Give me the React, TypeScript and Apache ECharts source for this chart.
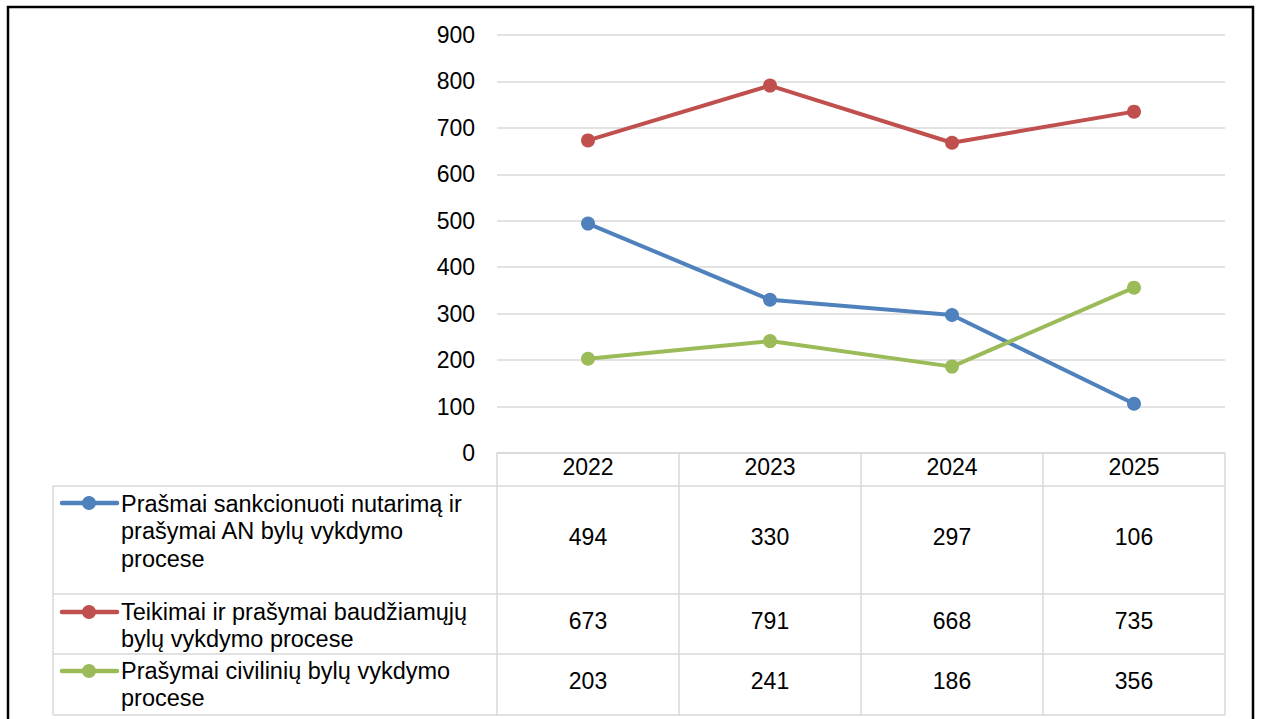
import React, { useEffect, useRef } from "react";
import * as echarts from "echarts";

const years = ["2022", "2023", "2024", "2025"];
const seriesNames = [
  "Prašmai sankcionuoti nutarimą ir prašymai AN bylų vykdymo procese",
  "Teikimai ir prašymai baudžiamųjų bylų vykdymo procese",
  "Prašymai civilinių bylų vykdymo procese",
];
const legendLabels = [
  "Prašmai sankcionuoti nutarimą ir\nprašymai AN bylų vykdymo\nprocese",
  "Teikimai ir prašymai baudžiamųjų\nbylų vykdymo procese",
  "Prašymai civilinių bylų vykdymo\nprocese",
];
const sankcionuoti = [494, 330, 297, 106];
const baudziamuju = [673, 791, 668, 735];
const civiliniu = [203, 241, 186, 356];
const seriesValues = [sankcionuoti, baudziamuju, civiliniu];
const colors = ["#4f81bd", "#c0504d", "#9bbb59"];
const yMin = 0;
const yMax = 900;
const yInterval = 100;

export default function App() {
  const ref = useRef<HTMLDivElement>(null);
  useEffect(() => {
    const chart = echarts.init(ref.current!, null, { renderer: "svg" });
    const font = "Arial, 'Liberation Sans', sans-serif";
    const gridColor = "#d9d9d9";
    const numSize = 23;
    const legSize = 23.5;
    chart.setOption({
      animation: false,
      grid: { left: 497, right: 36, top: 35, bottom: 266 },
      xAxis: {
        type: "category",
        data: years,
        boundaryGap: true,
        axisLine: { show: true, lineStyle: { color: gridColor, width: 1.5 } },
        axisTick: { show: true, length: 32, lineStyle: { color: gridColor, width: 1.5 } },
        axisLabel: { color: "#000", fontSize: numSize, fontFamily: font, margin: 2 },
      },
      yAxis: {
        type: "value",
        min: yMin,
        max: yMax,
        interval: yInterval,
        axisLine: { show: false },
        axisTick: { show: false },
        axisLabel: { color: "#000", fontSize: numSize, fontFamily: font, margin: 22 },
        splitLine: { lineStyle: { color: gridColor, width: 1.5 } },
      },
      series: seriesValues.map((vals, i) => ({
        type: "line",
        name: seriesNames[i],
        data: vals,
        symbol: "circle",
        symbolSize: 14,
        color: colors[i],
        lineStyle: { width: 4, color: colors[i] },
        itemStyle: { color: colors[i] },
      })),
    });

    const xs = years.map((y) => chart.convertToPixel({ xAxisIndex: 0 }, y) as number);
    const band = xs.length > 1 ? xs[1] - xs[0] : 182;
    const bounds = [xs[0] - band / 2, ...xs.map((x) => x + band / 2)];
    const tableLeft = 53;
    const tableRight = bounds[bounds.length - 1];
    const rowLines = [486, 594, 654, 715];
    const legendFirstLine = [503, 612, 671];
    const legendCenters = [531, 625.5, 684.5];
    const valueCenters = [537, 621, 681];

    const graphics: any[] = [];
    rowLines.forEach((y) => {
      graphics.push({
        type: "line",
        shape: { x1: tableLeft, y1: y, x2: tableRight, y2: y },
        style: { stroke: gridColor, lineWidth: 1.5 },
      });
    });
    graphics.push({
      type: "line",
      shape: { x1: tableLeft, y1: rowLines[0], x2: tableLeft, y2: rowLines[3] },
      style: { stroke: gridColor, lineWidth: 1.5 },
    });
    bounds.forEach((x) => {
      graphics.push({
        type: "line",
        shape: { x1: x, y1: 485, x2: x, y2: rowLines[3] },
        style: { stroke: gridColor, lineWidth: 1.5 },
      });
    });
    seriesNames.forEach((name, i) => {
      graphics.push({
        type: "line",
        shape: { x1: 62, y1: legendFirstLine[i], x2: 117, y2: legendFirstLine[i] },
        style: { stroke: colors[i], lineWidth: 4.5, lineCap: "round" },
      });
      graphics.push({
        type: "circle",
        shape: { cx: 89, cy: legendFirstLine[i], r: 7 },
        style: { fill: colors[i] },
      });
      graphics.push({
        type: "text",
        x: 121,
        y: legendCenters[i],
        style: {
          text: legendLabels[i],
          font: `${legSize}px ${font}`,
          lineHeight: 27.5,
          fill: "#000",
          align: "left",
          verticalAlign: "middle",
        },
      });
      seriesValues[i].forEach((v, j) => {
        graphics.push({
          type: "text",
          x: xs[j],
          y: valueCenters[i],
          style: {
            text: String(v),
            font: `${numSize}px ${font}`,
            fill: "#000",
            align: "center",
            verticalAlign: "middle",
          },
        });
      });
    });
    graphics.push({
      type: "rect",
      shape: { x: 8, y: 7, width: 1245, height: 730 },
      style: { fill: "none", stroke: "#000", lineWidth: 2.5 },
      silent: true,
    });
    chart.setOption({ graphic: graphics });

    return () => chart.dispose();
  }, []);
  return (
    <div
      ref={ref}
      style={{ position: "fixed", left: 0, top: 0, width: 1261, height: 719, background: "#fff" }}
    />
  );
}
